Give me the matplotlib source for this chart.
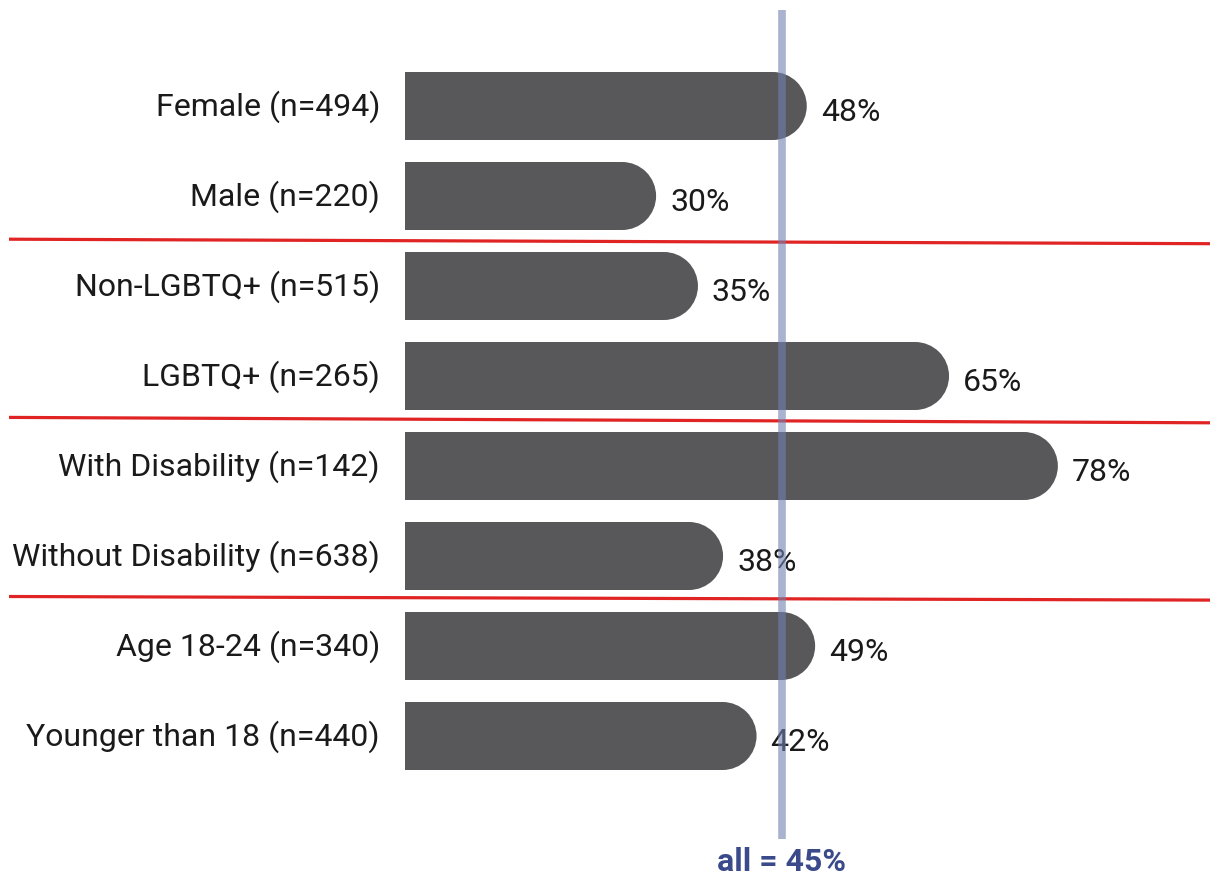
import matplotlib
matplotlib.use("Agg")
import matplotlib.pyplot as plt
from matplotlib.patches import Rectangle, Ellipse

plt.rcParams['font.family'] = ['Roboto', 'DejaVu Sans']

categories = ['Female (n=494)', 'Male (n=220)', 'Non-LGBTQ+ (n=515)', 'LGBTQ+ (n=265)',
              'With Disability (n=142)', 'Without Disability (n=638)',
              'Age 18-24 (n=340)', 'Younger than 18 (n=440)']
values = [48, 30, 35, 65, 78, 38, 49, 42]
overall = 45
overall_label = 'all = 45%'
# separators sit between groups (after item 2, 4, 6)
separators = [(1.48, 1.53), (3.46, 3.52), (5.45, 5.49)]

W, H = 1210, 878
fig = plt.figure(figsize=(W / 100, H / 100), dpi=100)
# axes: value 0 at x=405px, one unit of x = 8.37px; bar rows 90px apart, first at y=107px
x0_px, px_x = 405, 8.37
y0_px, px_y = 107, 90
ax = fig.add_axes([x0_px / W, 0, 1 - x0_px / W, 1])
ax.set_xlim(0, (W - x0_px) / px_x)
ax.set_ylim((H - y0_px) / px_y, -y0_px / px_y)
ax.axis('off')

bar_h = 68 / px_y
rx = (bar_h / 2) * px_y / px_x
bar_color = '#58585a'

for i, (cat, v) in enumerate(zip(categories, values)):
    ax.add_patch(Rectangle((0, i - bar_h / 2), v - rx, bar_h, color=bar_color, lw=0))
    ax.add_patch(Ellipse((v - rx, i), 2 * rx, bar_h, color=bar_color, lw=0))
    ax.text(-25 / px_x, i, cat, ha='right', va='center', fontsize=23, color='#1a1a1a', clip_on=False)
    ax.text(v + 14 / px_x, i + 0.06, f'{v}%', ha='left', va='center', fontsize=23, color='#1a1a1a')

for yl, yr in separators:
    ax.plot([(9 - x0_px) / px_x, (W - x0_px) / px_x], [yl, yr], color='#e02424', lw=2.3,
            clip_on=False, solid_capstyle='butt')

ax.plot([overall, overall], [(11 - y0_px) / px_y, (840 - y0_px) / px_y], color='#7080b0',
        alpha=0.6, lw=5.5, solid_capstyle='butt', zorder=5)
ax.text(overall, (862 - y0_px) / px_y, overall_label, ha='center', va='center', fontsize=23,
        fontweight='bold', color='#3b4a8a')

fig.savefig('out.png', dpi=100)
